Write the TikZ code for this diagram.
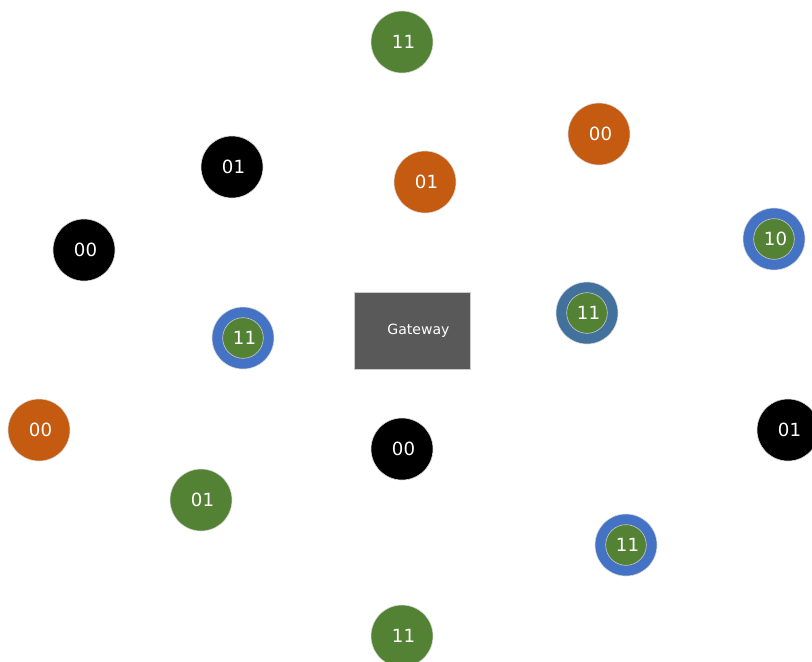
\documentclass[tikz,border=0pt]{standalone}
\usepackage{fontspec}
\setmainfont{DejaVu Sans}
\usepackage{xcolor}
\usepackage{tikz}
\usetikzlibrary{positioning}
\definecolor{tagGreen}{HTML}{548235}
\definecolor{tagOrange}{HTML}{C55A11}
\definecolor{tagBlack}{HTML}{000000}
\definecolor{tagBlue}{HTML}{4472C4}
\definecolor{tagSteel}{HTML}{41719C}
\definecolor{gatewayGrey}{HTML}{595959}
\tikzset{
  tag/.style={
    circle,
    draw=white!85!black,
    line width=0.5pt,
    minimum size=1.86cm,
    inner sep=0pt,
    text=white,
    font=\fontsize{15.5}{18}\selectfont
  },
  greenTag/.style={tag,fill=tagGreen},
  orangeTag/.style={tag,fill=tagOrange},
  blackTag/.style={tag,fill=tagBlack},
  ringTag/.style={tag,fill=tagBlue},
  innerTag/.style={tag,fill=tagGreen,draw=white!80!black,minimum size=1.22cm},
  gatewayBox/.style={
    rectangle,
    draw=white!80!black,
    fill=gatewayGrey,
    line width=0.6pt,
    minimum width=3.48cm,
    minimum height=2.31cm,
    text=white,
    font=\fontsize{12}{14}\selectfont
  }
}

\begin{document}
\begin{tikzpicture}[x=0.03cm,y=-0.03cm]
  \useasboundingbox (0,0) rectangle (812,661);
  \clip (0,0) rectangle (812,661);
  % gateway in the middle
  \node[gatewayBox] (gateway) at (412,330.5) {\hspace{11pt}Gateway};
  % plain tags
  \node[greenTag] (topTag) at (402,42) {\,11};
  \node[orangeTag] (tagNE) at (599,134) {\,00};
  \node[blackTag] (tagNW) at (232,167) {\,01};
  \node[orangeTag] (tagN) at (425,182) {\,01};
  \node[blackTag] (tagW) at (84,250) {\,00};
  \node[orangeTag] (tagFarW) at (39,430) {\,00};
  \node[blackTag] (tagS) at (402,449) {\,00};
  \node[blackTag] (tagE) at (788,430) {\,01};
  \node[greenTag] (tagSW) at (201,500) {\,01};
  \node[greenTag] (bottomTag) at (402,636) {\,11};
  % ringed tags
  \node[ringTag] (ringE) at (774,239) {};
  \node[innerTag] at (ringE.center) {\,10};
  \node[ringTag] (ringW) at (243,338) {};
  \node[innerTag] at (ringW.center) {\,11};
  \node[ringTag,fill=tagSteel] (ringC) at (587,313) {};
  \node[innerTag] at (ringC.center) {\,11};
  \node[ringTag] (ringSE) at (626,545) {};
  \node[innerTag] at (ringSE.center) {\,11};
\end{tikzpicture}
\end{document}
